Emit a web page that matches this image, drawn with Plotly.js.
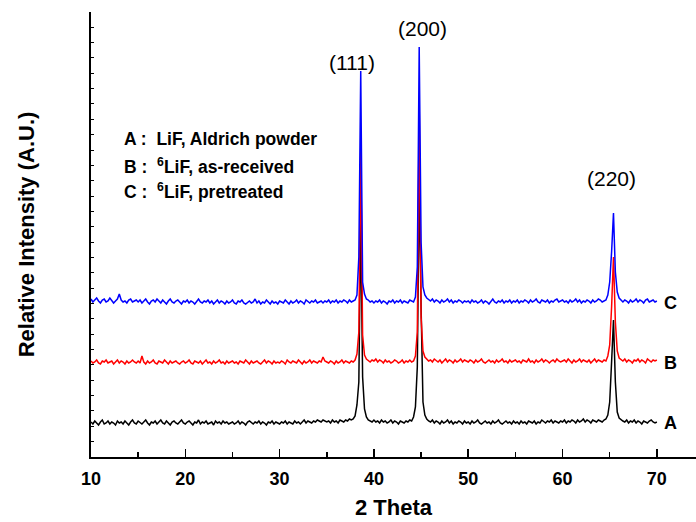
<!DOCTYPE html>
<html>
<head>
<meta charset="utf-8">
<script src="https://cdn.plot.ly/plotly-3.0.1.min.js"></script>
<style>html,body{margin:0;padding:0;background:#fff;}#chart{width:696px;height:522px;}</style>
</head>
<body>
<div id="chart"></div>
<script>
// 2-theta sampling of the scans (degrees)
const X_START = 10;
const X_STEP = 0.2;

// A : LiF, Aldrich powder (stacked, arbitrary units)
const intensityA = [
35,33,36,34,32,35,37,33,34,36,33,35,34,32,36,34,35,33,36,34,32,35,37,34,33,
36,34,33,35,37,34,32,35,34,36,33,35,37,34,33,36,34,32,35,36,34,33,35,37,34,
33,35,36,34,32,35,34,37,33,35,34,36,33,34,35,32,36,34,35,33,36,34,35,33,34,
35,33,34,36,33,35,34,32,35,36,34,33,35,34,36,33,35,34,32,35,34,36,33,35,34,
33,35,34,36,33,35,34,33,36,34,35,33,35,37,34,36,35,34,36,35,37,36,35,37,36,
35,36,34,37,35,36,34,37,36,35,37,36,38,37,38,41,52,75,240,80,48,40,37,36,35,
37,35,36,34,37,35,36,34,35,37,34,36,35,33,36,35,34,36,35,37,36,40,50,90,275,
150,55,42,38,36,35,37,34,36,35,33,36,34,35,37,34,36,33,35,34,36,35,33,36,34,
35,33,36,34,35,37,34,33,35,36,34,35,33,36,34,35,37,34,33,35,36,34,35,33,36,
34,35,33,36,34,35,33,36,35,34,36,33,35,34,37,35,34,36,35,37,34,36,35,34,36,
35,37,34,36,35,37,36,34,37,35,36,38,35,37,36,34,37,36,35,37,36,35,37,38,42,
55,95,137,75,45,39,37,36,35,37,34,36,35,37,34,36,35,33,36,35,34,36,37,35,34,
35
];

// B : 6LiF, as-received
const intensityB = [
96,94,95,97,94,93,96,95,97,94,95,96,93,95,97,94,96,95,93,96,94,95,97,95,94,
96,94,101,95,93,96,94,95,97,94,93,96,95,94,97,95,93,96,94,95,96,94,93,95,96,
94,95,97,94,93,96,95,94,96,93,95,97,94,95,93,96,94,95,97,94,95,93,96,94,95,
96,94,95,93,96,95,94,97,95,93,96,94,95,96,94,93,95,97,94,96,95,93,96,94,95,
94,96,95,93,97,95,94,96,95,94,97,95,93,96,94,95,97,94,96,95,94,96,95,100,96,
95,94,96,95,93,96,94,95,97,94,96,95,94,96,95,97,103,125,307,122,102,98,96,95,97,
96,98,95,97,96,94,97,95,96,94,95,97,96,94,95,97,94,96,95,97,95,96,101,125,352,
140,106,100,98,96,97,95,98,96,95,97,94,96,98,95,97,96,94,97,95,96,98,95,97,96,
95,97,96,94,97,95,96,98,95,94,96,97,95,96,94,97,95,96,98,95,96,94,97,95,96,
97,95,96,94,97,96,95,98,95,96,94,97,95,96,98,95,97,96,94,96,97,95,98,96,95,
96,97,95,98,96,94,97,95,96,98,95,97,96,95,97,94,96,98,95,97,96,95,97,96,101,
112,150,200,135,106,99,97,96,98,95,97,96,94,97,96,98,95,97,96,94,98,96,95,97,96,
97
];

// C : 6LiF, pretreated
const intensityC = [
158,155,157,159,156,154,157,158,155,156,159,157,154,156,158,163,157,155,156,154,157,158,155,156,157,
155,157,154,156,158,155,153,156,157,155,158,156,154,157,155,153,156,158,155,154,156,157,155,153,156,
155,157,154,156,155,153,156,158,155,154,156,155,157,154,156,153,155,157,154,156,155,153,156,154,155,
157,154,153,156,155,157,154,153,155,156,154,155,158,154,156,153,155,154,157,155,153,156,154,155,153,
156,155,154,157,155,153,156,154,155,157,154,156,155,153,157,155,154,156,155,157,154,155,156,154,156,
155,157,154,156,155,157,154,156,155,157,156,154,157,155,156,157,162,200,386,175,163,158,157,155,156,
154,156,155,157,154,156,155,153,156,155,157,154,156,155,157,154,156,155,154,157,156,155,160,190,410,
215,170,162,159,157,156,158,155,157,156,154,157,155,156,158,155,157,154,156,155,157,156,154,156,155,
156,154,157,155,156,154,155,157,154,156,155,153,156,158,155,154,156,155,157,154,156,155,157,154,156,
155,157,154,156,155,157,156,154,157,155,156,158,155,154,157,156,155,157,154,156,155,157,158,155,156,
157,155,156,154,157,155,156,158,155,157,154,156,155,157,156,154,157,155,156,158,157,155,156,157,162,
175,205,244,185,165,159,157,155,157,156,154,157,155,156,158,155,157,156,154,157,158,155,156,157,155,
156
];

const seriesNames = ['A', 'B', 'C'];
const seriesColors = ['#000000', '#ff0000', '#0000ff'];
const legendLines = [
  'A :\u00a0\u00a0LiF, Aldrich powder',
  'B :\u00a0\u00a0<sup>6</sup>LiF, as-received',
  'C :\u00a0\u00a0<sup>6</sup>LiF, pretreated'
];
const peakLabels = ['(111)', '(200)', '(220)'];
const xTickVals = [10, 20, 30, 40, 50, 60, 70];
const xTickText = ['10', '20', '30', '40', '50', '60', '70'];

const FONT = 'Liberation Sans, Arial, Helvetica, sans-serif';

const allY = [intensityA, intensityB, intensityC];
const traces = allY.map((ys, k) => ({
  type: 'scatter', mode: 'lines', name: seriesNames[k],
  x0: X_START, dx: X_STEP, y: ys,
  line: {color: seriesColors[k], width: 1.5},
  hoverinfo: 'skip'
}));

const annotations = [];
// peak (hkl) labels
const peakPos = [[37.67, 395], [45.17, 429], [65.24, 279]];
peakLabels.forEach((t, i) => annotations.push({
  x: peakPos[i][0], y: peakPos[i][1], xref: 'x', yref: 'y', text: t, showarrow: false,
  xanchor: 'center', yanchor: 'middle', font: {family: FONT, size: 21, color: '#000'}
}));
// sample legend text
const legY = [318, 291, 266];
legendLines.forEach((t, i) => annotations.push({
  x: 13.3, y: legY[i], xref: 'x', yref: 'y', text: '<b>' + t + '</b>', showarrow: false,
  xanchor: 'left', yanchor: 'middle', font: {family: FONT, size: 17.5, color: '#000'}
}));
// curve end labels
const endY = [34, 94, 154];
seriesNames.forEach((t, i) => annotations.push({
  x: 71.4, y: endY[i], xref: 'x', yref: 'y', text: '<b>' + t + '</b>', showarrow: false,
  xanchor: 'center', yanchor: 'middle', font: {family: FONT, size: 18, color: '#000'}
}));

const layout = {
  width: 696, height: 522,
  margin: {l: 91, r: 0, t: 12, b: 65, pad: 0},
  paper_bgcolor: '#fff', plot_bgcolor: '#fff',
  showlegend: false,
  xaxis: {
    range: [10, 74.15], autorange: false,
    showline: true, linecolor: '#000', linewidth: 2,
    showgrid: false, zeroline: false,
    tickmode: 'array', tickvals: xTickVals, ticktext: xTickText,
    ticks: 'inside', ticklen: 8, tickwidth: 1.5, tickcolor: '#000',
    minor: {ticks: 'inside', ticklen: 5, tickwidth: 1.5, tickcolor: '#000', dtick: 5, tick0: 5, showgrid: false},
    tickfont: {family: FONT, size: 18, color: '#000', weight: 'bold'},
    ticklabelstandoff: 4,
    title: {text: '<b>2 Theta</b>', font: {family: FONT, size: 22, color: '#000'}, standoff: 12}
  },
  yaxis: {
    range: [0, 445], autorange: false,
    showline: true, linecolor: '#000', linewidth: 2,
    showgrid: false, zeroline: false,
    tick0: 0, dtick: 15.35,
    ticks: 'inside', ticklen: 3, tickwidth: 1, tickcolor: '#000',
    showticklabels: false,
    title: {text: '<b>Relative Intensity (A.U.)</b>', font: {family: FONT, size: 22, color: '#000'}, standoff: 48}
  },
  annotations: annotations
};

Plotly.newPlot('chart', traces, layout, {staticPlot: true, displayModeBar: false});
</script>
</body>
</html>
